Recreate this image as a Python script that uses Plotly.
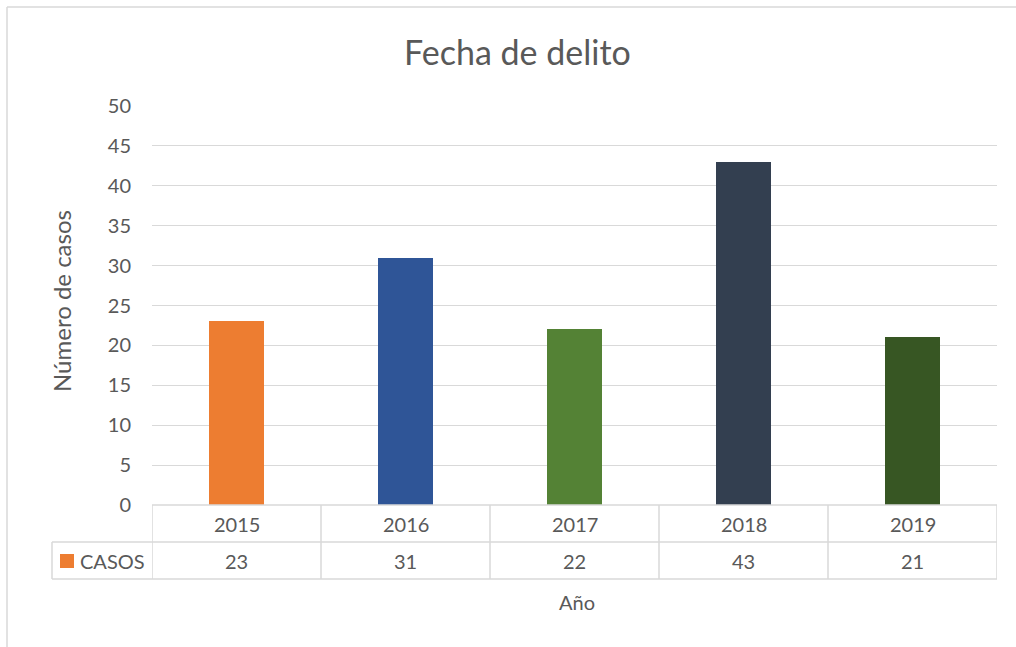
import plotly.graph_objects as go

# Data
years = ["2015", "2016", "2017", "2018", "2019"]
casos = [23, 31, 22, 43, 21]
bar_colors = ["#ED7D31", "#2F5597", "#548235", "#333F50", "#375623"]
series_name = "CASOS"
y_ticks = [0, 5, 10, 15, 20, 25, 30, 35, 40, 45, 50]

W, H = 1016, 647
FONT = "Lato"
TXT = "#595959"
LINE = "#D9D9D9"

def px(x):
    return x / W

def py(y):
    return 1 - y / H

# plot area in pixels
L, R, T, B = 152, 997, 106, 505
ROW1, ROW2 = 542, 579
LEG_L = 52

fig = go.Figure(
    go.Bar(
        x=years,
        y=casos,
        marker=dict(color=bar_colors, line=dict(width=0)),
        width=0.32,
        name=series_name,
        showlegend=False,
    )
)

shapes = []
line_style = dict(color=LINE, width=1.5)

# chart frame (top and left edges)
shapes.append(dict(type="line", xref="paper", yref="paper",
                   x0=px(7), x1=1.01, y0=py(7), y1=py(7), line=line_style))
shapes.append(dict(type="line", xref="paper", yref="paper",
                   x0=px(7), x1=px(7), y0=py(7), y1=-0.01, line=line_style))

# data table horizontal lines
shapes.append(dict(type="line", xref="paper", yref="paper",
                   x0=px(L), x1=px(R), y0=py(B), y1=py(B), line=line_style))
shapes.append(dict(type="line", xref="paper", yref="paper",
                   x0=px(LEG_L), x1=px(R), y0=py(ROW1), y1=py(ROW1), line=line_style))
shapes.append(dict(type="line", xref="paper", yref="paper",
                   x0=px(LEG_L), x1=px(R), y0=py(ROW2), y1=py(ROW2), line=line_style))
# legend cell left edge
shapes.append(dict(type="line", xref="paper", yref="paper",
                   x0=px(LEG_L), x1=px(LEG_L), y0=py(ROW1), y1=py(ROW2), line=line_style))
# column separators
for i in range(len(years) + 1):
    shapes.append(dict(type="line", xref="x", yref="paper",
                       x0=i - 0.5, x1=i - 0.5, y0=py(B), y1=py(ROW2), line=line_style))

# legend key square
shapes.append(dict(type="rect", xref="paper", yref="paper",
                   x0=px(60), x1=px(74), y0=py(568), y1=py(554),
                   fillcolor=bar_colors[0], line=dict(width=0)))

cell_font = dict(family=FONT, size=20, color=TXT)
annotations = []
for i, (yr, v) in enumerate(zip(years, casos)):
    annotations.append(dict(x=i, xref="x", y=py((B + ROW1) / 2), yref="paper",
                            text=yr, showarrow=False, yanchor="middle",
                            font=cell_font))
    annotations.append(dict(x=i, xref="x", y=py((ROW1 + ROW2) / 2), yref="paper",
                            text=str(v), showarrow=False, yanchor="middle",
                            font=cell_font))

annotations.append(dict(x=px(78), xref="paper", y=py((ROW1 + ROW2) / 2), yref="paper",
                        text=series_name, showarrow=False, xanchor="left",
                        yanchor="middle", font=cell_font))

# axis titles
annotations.append(dict(x=px(61), xref="paper", y=py(301), yref="paper",
                        text="Número de casos", showarrow=False, textangle=-90,
                        xanchor="center", yanchor="middle",
                        font=dict(family=FONT, size=24, color=TXT)))
annotations.append(dict(x=px(577), xref="paper", y=py(602), yref="paper",
                        text="Año", showarrow=False, yanchor="middle",
                        font=dict(family=FONT, size=20, color=TXT)))
# title
annotations.append(dict(x=px(517), xref="paper", y=py(52), yref="paper",
                        text="Fecha de delito", showarrow=False, yanchor="middle",
                        font=dict(family=FONT, size=34, color=TXT)))

fig.update_layout(
    width=W, height=H,
    margin=dict(l=0, r=0, t=0, b=0, pad=0, autoexpand=False),
    paper_bgcolor="white",
    plot_bgcolor="white",
    shapes=shapes,
    annotations=annotations,
    bargap=0,
    xaxis=dict(
        type="category",
        domain=[px(L), px(R)],
        range=[-0.5, len(years) - 0.5],
        showticklabels=False,
        showgrid=False,
        zeroline=False,
        showline=False,
        fixedrange=True,
    ),
    yaxis=dict(
        domain=[py(B), py(T)],
        range=[0, 50],
        tickvals=y_ticks,
        ticktext=[str(t) for t in y_ticks],
        showgrid=True,
        gridcolor=LINE,
        gridwidth=1.3,
        zeroline=False,
        showline=False,
        ticks="",
        ticklabelstandoff=20,
        tickfont=dict(family=FONT, size=20, color=TXT),
        fixedrange=True,
    ),
    font=dict(family=FONT, color=TXT),
)

fig.write_html("out.html")
